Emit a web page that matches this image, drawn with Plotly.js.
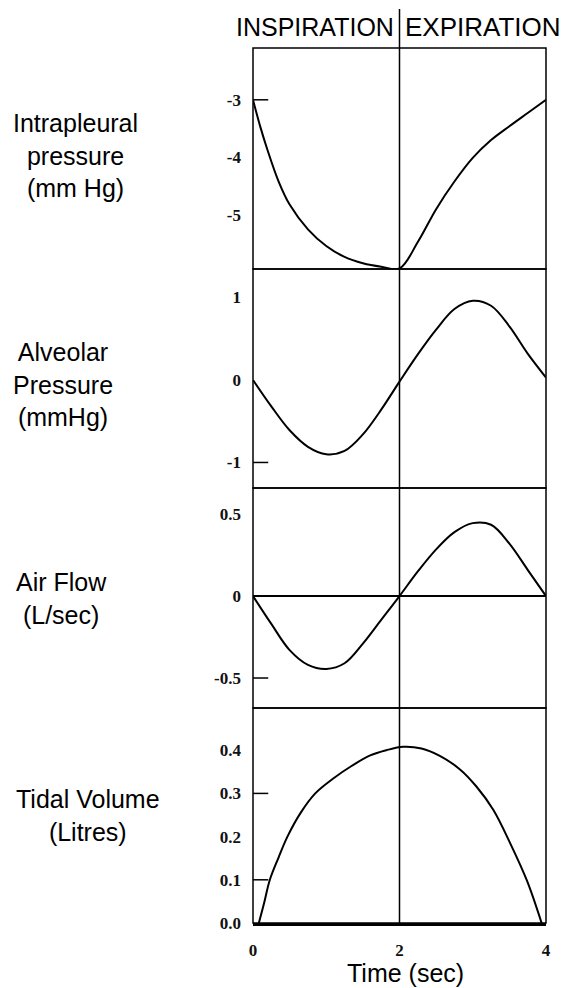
<!DOCTYPE html>
<html><head><meta charset="utf-8">
<script src="https://cdn.plot.ly/plotly-3.0.1.min.js"></script>
<style>html,body{margin:0;padding:0;background:#fff}</style>
</head><body><div id="chart" style="width:565px;height:988px"></div>
<script>
// ---- data ----
const panelLabels = ["Intrapleural<br>pressure<br>(mm Hg)", "Alveolar<br>Pressure<br>(mmHg)", "Air Flow<br>(L/sec)", "Tidal Volume<br>(Litres)"];
const phaseLabels = ["INSPIRATION", "EXPIRATION"];
const phaseBoundary = 2;
const xTitle = "Time (sec)";
const xTickVals = [0, 2, 4];
const xTickText = ["0", "2", "4"];

const timePleural = [0, 0.1, 0.2, 0.35, 0.5, 0.75, 1.0, 1.25, 1.5, 1.75, 2.0, 2.25, 2.5, 2.75, 3.0, 3.25, 3.5, 3.75, 4.0];
const pleuralPressure = [-3.0, -3.47, -3.88, -4.42, -4.82, -5.25, -5.54, -5.73, -5.84, -5.9, -5.93, -5.47, -4.9, -4.42, -4.01, -3.7, -3.46, -3.23, -3.0];

const timeAlveolar = [0, 0.25, 0.5, 0.75, 1.0, 1.25, 1.5, 1.75, 2.0, 2.25, 2.5, 2.75, 3.0, 3.25, 3.5, 3.75, 4.0];
const alveolarPressure = [0, -0.32, -0.61, -0.81, -0.9, -0.86, -0.66, -0.36, -0.02, 0.31, 0.61, 0.86, 0.96, 0.9, 0.65, 0.32, 0.03];

const timeFlow = [0, 0.25, 0.5, 0.75, 1.0, 1.25, 1.5, 1.75, 2.0, 2.25, 2.5, 2.75, 3.0, 3.25, 3.5, 3.75, 4.0];
const airFlow = [0, -0.17, -0.33, -0.42, -0.445, -0.41, -0.29, -0.145, 0, 0.15, 0.285, 0.39, 0.445, 0.435, 0.32, 0.16, 0];

const timeVolume = [0.08, 0.15, 0.23, 0.35, 0.47, 0.65, 0.85, 1.1, 1.35, 1.6, 1.82, 2.05, 2.3, 2.55, 2.83, 3.05, 3.28, 3.51, 3.74, 3.94];
const tidalVolume = [0, 0.045, 0.1, 0.152, 0.2, 0.255, 0.3, 0.335, 0.364, 0.388, 0.4, 0.408, 0.404, 0.387, 0.355, 0.316, 0.262, 0.185, 0.098, 0];

const yTickVals1 = [-3, -4, -5];            const yTickText1 = ["-3", "-4", "-5"];
const yTickVals2 = [1, 0, -1];              const yTickText2 = ["1", "0", "-1"];
const yTickVals3 = [0.5, 0, -0.5];          const yTickText3 = ["0.5", "0", "-0.5"];
const yTickVals4 = [0.4, 0.3, 0.2, 0.1, 0]; const yTickText4 = ["0.4", "0.3", "0.2", "0.1", "0.0"];
const markedTicks = [[-3], [-1], [-0.5], [0.3, 0.1]];

// ---- layout ----
const xRange = [0, 4];
const domains = [[0.7474, 1], [0.4971, 0.7474], [0.2457, 0.4971], [0, 0.2457]];
const yRanges = [[-5.94, -2.1], [-1.31, 1.345], [-0.683, 0.659], [0, 0.4977]];
const labelX = [-0.6075, -0.648, -0.652, -0.563];
const labelY = [0.8777, 0.6149, 0.3703, 0.1223];

const lineStyle = {color: "#000", width: 2};
const traces = [
  {x: timePleural, y: pleuralPressure, yaxis: "y"},
  {x: timeAlveolar, y: alveolarPressure, yaxis: "y2"},
  {x: timeFlow, y: airFlow, yaxis: "y3"},
  {x: timeVolume, y: tidalVolume, yaxis: "y4"}
].map(t => Object.assign(t, {type: "scatter", mode: "lines", xaxis: "x", line: Object.assign({shape: "spline", smoothing: 1}, lineStyle), hoverinfo: "skip"}));

const tickFont = {family: "Liberation Serif, Times New Roman, serif", size: 17, color: "#111", weight: "bold"};
const labelFont = {family: "Liberation Sans, Arial, sans-serif", size: 25, color: "#000"};

function yAxis(i, vals, text) {
  return {
    domain: domains[i], range: yRanges[i], anchor: "x",
    showgrid: false, zeroline: i === 2, zerolinecolor: "#000", zerolinewidth: 1.5,
    showline: false, ticks: "", tickvals: vals, ticktext: text,
    tickfont: tickFont, ticklabelstandoff: 11, fixedrange: true
  };
}

const shapes = [];
const axIds = ["y", "y2", "y3", "y4"];
axIds.forEach((id, i) => {
  shapes.push({type: "rect", xref: "x domain", yref: id + " domain", x0: 0, x1: 1, y0: 0, y1: 1,
    line: {color: "#000", width: 1.5}});
  markedTicks[i].forEach(v => shapes.push({type: "line", xref: "x domain", yref: id, x0: 0, x1: 0.052, y0: v, y1: v,
    line: {color: "#000", width: 1.5}}));
});
const boundaryPaper = (phaseBoundary - xRange[0]) / (xRange[1] - xRange[0]);
shapes.push({type: "line", xref: "paper", yref: "paper", x0: boundaryPaper, x1: boundaryPaper, y0: 0, y1: 1.0446,
  line: {color: "#000", width: 1.5}});

const annotations = panelLabels.map((t, i) => ({
  text: t, xref: "paper", yref: "paper", x: labelX[i], y: labelY[i], xanchor: "center", yanchor: "middle",
  showarrow: false, align: "center", font: labelFont
}));
annotations.push({text: phaseLabels[0], xref: "paper", yref: "paper", x: boundaryPaper, xshift: -4, y: 1.024,
  xanchor: "right", yanchor: "middle", showarrow: false, font: labelFont});
annotations.push({text: phaseLabels[1], xref: "paper", yref: "paper", x: boundaryPaper, xshift: 3, y: 1.024,
  xanchor: "left", yanchor: "middle", showarrow: false, font: Object.assign({}, labelFont, {size: 26})});
annotations.push({text: xTitle, xref: "paper", yref: "paper", x: 0.52, y: -0.0575,
  xanchor: "center", yanchor: "middle", showarrow: false, font: labelFont});

const layout = {
  width: 565, height: 988,
  margin: {l: 253, r: 19, t: 48, b: 65},
  paper_bgcolor: "#fff", plot_bgcolor: "#fff",
  showlegend: false,
  xaxis: {
    range: xRange, anchor: "y4", showgrid: false, zeroline: false,
    showline: true, linecolor: "#000", linewidth: 2.5, ticks: "",
    tickvals: xTickVals, ticktext: xTickText, tickfont: tickFont, ticklabelstandoff: 10,
    fixedrange: true
  },
  yaxis: yAxis(0, yTickVals1, yTickText1),
  yaxis2: yAxis(1, yTickVals2, yTickText2),
  yaxis3: yAxis(2, yTickVals3, yTickText3),
  yaxis4: yAxis(3, yTickVals4, yTickText4),
  shapes: shapes,
  annotations: annotations
};

Plotly.newPlot("chart", traces, layout, {displayModeBar: false, staticPlot: true});
</script>
</body></html>
